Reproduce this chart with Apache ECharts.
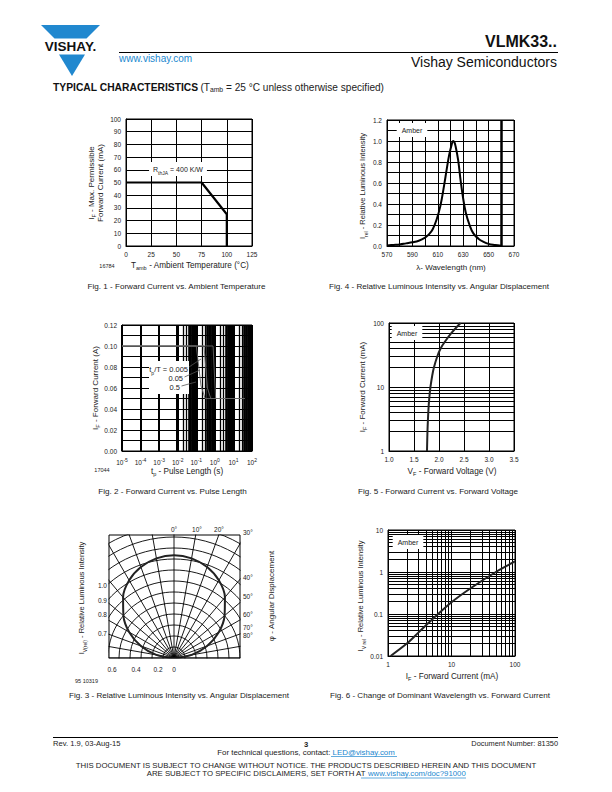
<!DOCTYPE html>
<html><head><meta charset="utf-8">
<script src="https://cdn.jsdelivr.net/npm/echarts@6/dist/echarts.min.js"></script>
<style>html,body{margin:0;padding:0;background:#fff}#c{width:612px;height:792px}</style>
</head><body><div id="c"></div>
<script>
// ---------- DATA ----------
// Fig 1 - Forward current vs ambient temperature
const fig1Temp = [0, 75, 100, 100];
const fig1Current = [50, 50, 25, 0];
// Fig 4 - Relative luminous intensity vs wavelength
const fig4Wavelength = [570, 575, 580, 585, 590, 595, 600, 603, 606, 609, 612, 615, 617, 619, 621, 622, 623, 624, 626, 628, 630, 632, 635, 638, 642, 646, 650, 655, 660];
const fig4RelIntensity = [0.005, 0.01, 0.015, 0.025, 0.035, 0.05, 0.08, 0.11, 0.16, 0.25, 0.38, 0.58, 0.73, 0.87, 0.97, 1.0, 0.99, 0.95, 0.82, 0.62, 0.45, 0.32, 0.2, 0.12, 0.07, 0.04, 0.02, 0.01, 0.003];
// Fig 2 - Forward current vs pulse length (tp/T = 0.005, 0.05, 0.5)
const fig2Pulse0005 = [1e-5, 0.8, 1.1, 40];
const fig2Current0005 = [0.1, 0.1, 0.05, 0.05];
const fig2Pulse005 = [1e-5, 0.26, 0.4, 0.6, 40];
const fig2Current005 = [0.1, 0.1, 0.06, 0.05, 0.05];
const fig2Pulse05 = [1e-5, 0.1, 0.18, 0.3, 40];
const fig2Current05 = [0.1, 0.1, 0.062, 0.05, 0.05];
// Fig 5 - Forward current vs forward voltage
const fig5Voltage = [1.76, 1.769, 1.778, 1.793, 1.815, 1.829, 1.864, 1.897, 1.965, 2.032, 2.11, 2.25, 2.43];
const fig5Current = [1, 2, 3, 5, 8, 10, 15, 20, 30, 40, 50, 70, 100];
// Fig 6 - Relative luminous intensity vs forward current
const fig6Current = [1.1, 2, 3, 5, 10, 20, 50, 100];
const fig6RelIntensity = [0.01, 0.02, 0.036, 0.075, 0.19, 0.41, 1.0, 1.78];
// Fig 3 - Relative luminous intensity vs angular displacement
const fig3Angle = [-90, -80, -70, -60, -50, -40, -30, -20, -10, 0, 10, 20, 30, 40, 50, 60, 70, 80, 90];
const fig3RelIntensity = [0, 0.163, 0.32, 0.47, 0.6, 0.72, 0.815, 0.88, 0.92, 0.935, 0.92, 0.88, 0.815, 0.72, 0.6, 0.47, 0.32, 0.163, 0];
// Tick / label arrays
const fig3TopLabels = ['0°', '10°', '20°'];
const fig3RightLabels = ['30°', '40°', '50°', '60°', '70°', '80°'];
const fig3LeftLabels = ['1.0', '0.9', '0.8', '0.7'];
const fig3BottomLabels = ['0.6', '0.4', '0.2', '0'];

// minor grid positions for log axes
function logMinor(fromExp, toExp, ks) {
  const out = [];
  for (let e = fromExp; e < toExp; e++) for (const k of ks) out.push(+(k * Math.pow(10, e)).toPrecision(3));
  return out;
}
const fig2MinorXThin = logMinor(-5, 2, [2, 3]);
const fig2MinorXThick = logMinor(-5, 2, [4, 5, 6, 7, 8, 9]);
const fig5MinorY = logMinor(0, 2, [2, 3, 4, 5, 6, 7, 8, 9]);
const fig6MinorX = logMinor(0, 2, [2, 3, 4, 5, 6, 7, 8, 9]);
const fig6MinorY = logMinor(-2, 1, [2, 3, 4, 5, 6, 7, 8, 9]);

// ---------- STYLE HELPERS ----------
const F = 'Liberation Sans, Arial, Helvetica, sans-serif';
const BLACK = '#000';
const TXT = '#222';
const BLUE = '#2188cf';

function axis(gridIndex, extra) {
  const base = {
    gridIndex,
    axisLine: { show: true, lineStyle: { color: BLACK, width: 1 } },
    axisTick: { show: false },
    axisLabel: { color: TXT, fontSize: 6.5, fontFamily: F, margin: 5 },
    splitLine: { show: true, lineStyle: { color: BLACK, width: 1 } }
  };
  for (const k in extra) {
    if (typeof extra[k] === 'object' && base[k] && !Array.isArray(extra[k])) base[k] = Object.assign({}, base[k], extra[k]);
    else base[k] = extra[k];
  }
  return base;
}
function minorLines(key, arr, width) {
  return {
    silent: true, symbol: ['none', 'none'], label: { show: false },
    lineStyle: { color: BLACK, width: width || 1, type: 'solid', opacity: 1 },
    emphasis: { disabled: true },
    data: arr.map(v => ({ [key]: v }))
  };
}
const R = (size, extra) => Object.assign({ fontFamily: F, fontSize: size, fill: TXT, lineHeight: 12 }, extra || {});
const SUB = (size) => ({ fontFamily: F, fontSize: size, fill: TXT, verticalAlign: 'bottom', lineHeight: 8 });

function txt(x, y, text, o) {
  o = o || {};
  const style = {
    text, fontFamily: F, fontSize: o.size || 7.5, fontWeight: o.bold ? 'bold' : 'normal',
    fill: o.color || TXT, align: o.align || 'center', verticalAlign: 'middle',
    textAlign: o.align || 'center', textVerticalAlign: 'middle', lineHeight: o.lh || 12
  };
  if (o.rich) style.rich = o.rich;
  if (o.bg) { style.backgroundColor = o.bg; style.padding = o.pad || [1, 3]; }
  return { type: 'text', x, y, z: o.z || 100, silent: true, rotation: o.rot || 0, style };
}
function line(x1, y1, x2, y2, w, color, z) {
  return { type: 'line', z: z || 100, silent: true, shape: { x1, y1, x2, y2 }, style: { stroke: color || BLACK, lineWidth: w || 1 } };
}
function rect(x, y, w, h, fill, z, stroke) {
  return { type: 'rect', z: z || 50, silent: true, shape: { x, y, width: w, height: h },
    style: { fill: fill || '#fff', stroke: stroke || null, lineWidth: stroke ? 1 : 0 } };
}
const ROT = Math.PI / 2;
const CAP = 8.1;

// ---------- GRAPHICS (page text, annotations) ----------
const g = [];
// Logo
g.push({ type: 'polygon', z: 100, silent: true, shape: { points: [[41, 25], [100, 25], [86.5, 38.5], [54.5, 38.5]] }, style: { fill: BLUE } });
g.push({ type: 'polygon', z: 100, silent: true, shape: { points: [[59, 54.5], [85, 54.5], [72, 76]] }, style: { fill: BLUE } });
g.push(txt(70.5, 46.5, 'VISHAY.', { size: 13.5, bold: true, color: '#111' }));
// Header
g.push(txt(557, 41, 'VLMK33..', { size: 16, bold: true, align: 'right', color: '#111' }));
g.push(line(119, 52.5, 558, 52.5, 1));
g.push(txt(119, 58.5, 'www.vishay.com', { size: 10, align: 'left', color: BLUE }));
g.push(txt(557, 62, 'Vishay Semiconductors', { size: 14, align: 'right', color: '#111' }));
g.push(txt(53, 87, '{b|TYPICAL CHARACTERISTICS} {n|(T}{s|amb}{n| = 25 °C unless otherwise specified)}', {
  align: 'left', rich: { b: R(10.3, { fontWeight: 'bold', fill: '#111' }), n: R(10.1), s: SUB(6.8) } }));

// Fig 1 texts
g.push(txt(91, 183, '{n|I}{s|F}{n| - Max. Permissible}', { rot: ROT, rich: { n: R(8), s: SUB(5.5) } }));
g.push(txt(100.5, 183, 'Forward Current (mA)', { rot: ROT, size: 8 }));
g.push(txt(190, 265, '{n|T}{s|amb}{n| - Ambient Temperature (°C)}', { rich: { n: R(8.2), s: SUB(5.5) } }));
g.push(txt(107, 265.5, '16784', { size: 5.5 }));
g.push(txt(176.5, 286.5, 'Fig. 1 - Forward Current vs. Ambient Temperature', { size: CAP }));
g.push(txt(178, 169, '{n|R}{s|thJA}{n| = 400 K/W}', { bg: '#fff', pad: [1, 4], rich: { n: R(7), s: SUB(5) } }));

// Fig 4 texts
g.push(txt(362, 186, '{n|I}{s|rel}{n| - Relative Luminous Intensity}', { rot: ROT, rich: { n: R(7.5), s: SUB(5) } }));
g.push(txt(451, 267, 'λ- Wavelength (nm)', { size: 8 }));
g.push(txt(439, 286.5, 'Fig. 4 - Relative Luminous Intensity vs. Angular Displacement', { size: CAP }));
g.push(txt(412, 130, 'Amber', { size: 7, bg: '#fff', pad: [1, 5] }));

// Fig 2 texts
g.push(txt(95, 388, '{n|I}{s|F}{n| - Forward Current (A)}', { rot: ROT, rich: { n: R(8), s: SUB(5.5) } }));
g.push(txt(187, 471, '{n|t}{s|p}{n| - Pulse Length (s)}', { rich: { n: R(8.2), s: SUB(5.5) } }));
g.push(txt(102, 470, '17044', { size: 5.5 }));
g.push(txt(172.5, 491.5, 'Fig. 2 - Forward Current vs. Pulse Length', { size: CAP }));
g.push(rect(149, 361, 40, 33, '#fff', 60));
g.push(txt(188, 369, '{n|t}{s|p}{n|/T = 0.005}', { align: 'right', rich: { n: R(7.5), s: SUB(5) } }));
g.push(txt(183, 378, '0.05', { align: 'right', size: 7.5 }));
g.push(txt(180, 387, '0.5', { align: 'right', size: 7.5 }));
g.push(line(189, 367, 201, 359, 0.8, '#555'));
g.push(line(184.5, 377, 200, 370, 0.8, '#555'));
g.push(line(181.5, 386, 196, 382, 0.8, '#555'));

// Fig 5 texts
g.push(txt(362, 387, '{n|I}{s|F}{n| - Forward Current (mA)}', { rot: ROT, rich: { n: R(8), s: SUB(5.5) } }));
g.push(txt(452, 471, '{n|V}{s|F}{n| - Forward Voltage (V)}', { rich: { n: R(8.2), s: SUB(5.5) } }));
g.push(txt(438, 491.5, 'Fig. 5 - Forward Current vs. Forward Voltage', { size: CAP }));
g.push(txt(407, 333, 'Amber', { size: 7, bg: '#fff', pad: [1, 5] }));

// Fig 6 texts
g.push(txt(360, 596, '{n|I}{s|V rel}{n| - Relative Luminous Intensity}', { rot: ROT, rich: { n: R(7.5), s: SUB(5) } }));
g.push(txt(452, 676, '{n|I}{s|F}{n| - Forward Current (mA)}', { rich: { n: R(8.2), s: SUB(5.5) } }));
g.push(txt(440, 695.5, 'Fig. 6 - Change of Dominant Wavelength vs. Forward Current', { size: CAP }));
g.push(txt(408, 542, 'Amber', { size: 7, bg: '#fff', pad: [1, 5] }));

// Fig 3 masks + frame + texts
const P3 = { cx: 174, cy: 658, left: 109, top: 535, right: 240 };
g.push(rect(20, 500, P3.left - 20 - 0.5, 170, '#fff', 50));
g.push(rect(P3.right + 0.5, 500, 90, 170, '#fff', 50));
g.push(rect(20, 500, 330, P3.top - 500 - 0.5, '#fff', 50));
g.push(rect(20, P3.cy + 0.5, 330, 792 - P3.cy, '#fff', 50));
g.push(rect(P3.left, P3.top, P3.right - P3.left, P3.cy - P3.top, 'none', 60, BLACK));
const topX = [174, 197, 219];
fig3TopLabels.forEach((t, i) => g.push(txt(topX[i], 529, t, { size: 6.5 })));
const rightY = [532, 577, 596, 614, 627, 635];
fig3RightLabels.forEach((t, i) => g.push(txt(243, rightY[i], t, { size: 6.5, align: 'left' })));
const leftY = [585, 600, 614, 633];
fig3LeftLabels.forEach((t, i) => g.push(txt(107, leftY[i], t, { size: 6.5, align: 'right' })));
const botX = [112, 136, 158, 174];
fig3BottomLabels.forEach((t, i) => g.push(txt(botX[i], 669, t, { size: 6.5 })));
g.push(txt(75, 681, '95 10319', { size: 5.5, align: 'left' }));
g.push(txt(81, 598, '{n|I}{s|V(rel)}{n| - Relative Luminous Intensity}', { rot: ROT, rich: { n: R(7.5), s: SUB(5) } }));
g.push(txt(271, 596, 'φ - Angular Displacement', { rot: ROT, size: 8 }));
g.push(txt(179, 695.5, 'Fig. 3 - Relative Luminous Intensity vs. Angular Displacement', { size: CAP }));

// Footer
g.push(line(53, 737.5, 558, 737.5, 1));
g.push(txt(53, 743.5, 'Rev. 1.9, 03-Aug-15', { size: 7.6, align: 'left' }));
g.push(txt(306, 744, '3', { size: 7.6, bold: true }));
g.push(txt(558, 743.5, 'Document Number: 81350', { size: 7.4, align: 'right' }));
g.push(txt(306, 752, '{n|For technical questions, contact: }{l|LED@vishay.com}', {
  rich: { n: R(7.9), l: R(7.9, { fill: BLUE }) } }));
g.push(line(331, 756.5, 397, 756.5, 0.7, BLUE));
g.push(txt(306, 765, 'THIS DOCUMENT IS SUBJECT TO CHANGE WITHOUT NOTICE. THE PRODUCTS DESCRIBED HEREIN AND THIS DOCUMENT', { size: 7.8 }));
g.push(txt(306, 773.5, '{n|ARE SUBJECT TO SPECIFIC DISCLAIMERS, SET FORTH AT }{l|www.vishay.com/doc?91000}', {
  rich: { n: R(7.8), l: R(7.8, { fill: BLUE }) } }));
g.push(line(361, 778, 466, 778, 0.7, BLUE));

// ---------- CHART OPTION ----------
const pairs = (xs, ys) => xs.map((x, i) => [x, ys[i]]);
const curve = (w, color) => ({ color: color || BLACK, width: w });

const option = {
  animation: false,
  backgroundColor: '#fff',
  grid: [
    { left: 126, top: 119, width: 126, height: 127, show: true, borderColor: BLACK, borderWidth: 1, outerBoundsMode: 'none', containLabel: false },
    { left: 387, top: 120, width: 127, height: 126, show: true, borderColor: BLACK, borderWidth: 1, outerBoundsMode: 'none', containLabel: false },
    { left: 122, top: 325, width: 130, height: 126, show: true, borderColor: BLACK, borderWidth: 1, outerBoundsMode: 'none', containLabel: false },
    { left: 389, top: 323, width: 125, height: 128, show: true, borderColor: BLACK, borderWidth: 1, outerBoundsMode: 'none', containLabel: false },
    { left: 388, top: 530, width: 127, height: 126, show: true, borderColor: BLACK, borderWidth: 1, outerBoundsMode: 'none', containLabel: false }
  ],
  xAxis: [
    axis(0, { type: 'value', min: 0, max: 125, interval: 25 }),
    axis(1, { type: 'value', min: 570, max: 670, interval: 20,
      minorTick: { show: false, splitNumber: 2 }, minorSplitLine: { show: true, lineStyle: { color: BLACK, width: 1 } } }),
    axis(2, { type: 'log', logBase: 10, min: 1e-5, max: 100, splitNumber: 7,
      splitLine: { show: true, lineStyle: { color: BLACK, width: 2 } },
      axisLabel: { color: TXT, fontFamily: F, fontSize: 6.5, margin: 6,
        formatter: v => '{b|10}{s|' + Math.round(Math.log10(v)) + '}',
        rich: { b: { fontSize: 6.5, fontFamily: F, color: TXT, lineHeight: 10 }, s: { fontSize: 5, fontFamily: F, color: TXT, verticalAlign: 'top', lineHeight: 6 } } } }),
    axis(3, { type: 'value', min: 1, max: 3.5, interval: 0.5, axisLabel: { formatter: v => v.toFixed(1) } }),
    axis(4, { type: 'log', logBase: 10, min: 1, max: 100, splitNumber: 2 })
  ],
  yAxis: [
    axis(0, { type: 'value', min: 0, max: 100, interval: 10 }),
    axis(1, { type: 'value', min: 0, max: 1.2, interval: 0.2, axisLabel: { formatter: v => v.toFixed(1) },
      minorTick: { show: false, splitNumber: 2 }, minorSplitLine: { show: true, lineStyle: { color: BLACK, width: 1 } } }),
    axis(2, { type: 'value', min: 0, max: 0.12, interval: 0.02, axisLabel: { formatter: v => v.toFixed(2) },
      minorTick: { show: false, splitNumber: 2 }, minorSplitLine: { show: true, lineStyle: { color: BLACK, width: 1 } } }),
    axis(3, { type: 'log', logBase: 10, min: 1, max: 100, splitNumber: 2 }),
    axis(4, { type: 'log', logBase: 10, min: 0.01, max: 10, splitNumber: 3 })
  ],
  polar: { center: [P3.cx, P3.cy], radius: 143 },
  angleAxis: {
    type: 'value', min: -180, max: 180, interval: 10, startAngle: 270, clockwise: true,
    axisLine: { show: false }, axisTick: { show: false }, axisLabel: { show: false },
    splitLine: { show: true, lineStyle: { color: BLACK, width: 0.9 } }
  },
  radiusAxis: {
    type: 'value', min: 0, max: 1.3, interval: 0.1,
    axisLine: { show: false }, axisTick: { show: false }, axisLabel: { show: false },
    splitLine: { show: true, lineStyle: { color: BLACK, width: 0.9 } }
  },
  graphic: { elements: g },
  series: [
    { name: 'Fig1', type: 'line', xAxisIndex: 0, yAxisIndex: 0, data: pairs(fig1Temp, fig1Current),
      symbol: 'none', lineStyle: curve(2.2), z: 5 },
    { name: 'Fig4', type: 'line', xAxisIndex: 1, yAxisIndex: 1, data: pairs(fig4Wavelength, fig4RelIntensity),
      symbol: 'none', smooth: 0.4, lineStyle: curve(2), z: 5,
      markLine: minorLines('xAxis', [660], 2.5) },
    { name: 'tp/T = 0.005', type: 'line', xAxisIndex: 2, yAxisIndex: 2, data: pairs(fig2Pulse0005, fig2Current0005),
      symbol: 'none', lineStyle: curve(0.9, '#666'), z: 5,
      markLine: minorLines('xAxis', fig2MinorXThick, 2.6) },
    { name: 'tp/T = 0.05', type: 'line', xAxisIndex: 2, yAxisIndex: 2, data: pairs(fig2Pulse005, fig2Current005),
      symbol: 'none', lineStyle: curve(0.9, '#666'), z: 5,
      markLine: minorLines('xAxis', fig2MinorXThin, 1.3) },
    { name: 'tp/T = 0.5', type: 'line', xAxisIndex: 2, yAxisIndex: 2, data: pairs(fig2Pulse05, fig2Current05),
      symbol: 'none', lineStyle: curve(0.9, '#666'), z: 5 },
    { name: 'Fig5', type: 'line', xAxisIndex: 3, yAxisIndex: 3, data: pairs(fig5Voltage, fig5Current),
      symbol: 'none', smooth: 0.3, lineStyle: curve(2, '#222'), z: 5,
      markLine: minorLines('yAxis', fig5MinorY, 1) },
    { name: 'Fig6', type: 'line', xAxisIndex: 4, yAxisIndex: 4, data: pairs(fig6Current, fig6RelIntensity),
      symbol: 'none', smooth: 0.3, lineStyle: curve(2, '#222'), z: 5,
      markLine: minorLines('xAxis', fig6MinorX, 1) },
    { name: 'Fig6minorY', type: 'line', xAxisIndex: 4, yAxisIndex: 4, data: [],
      symbol: 'none', markLine: minorLines('yAxis', fig6MinorY, 1) },
    { name: 'Fig3', type: 'line', coordinateSystem: 'polar', data: fig3Angle.map((a, i) => [fig3RelIntensity[i], a]),
      symbol: 'none', smooth: 0.3, lineStyle: curve(2, '#222'), z: 5 }
  ]
};

const chart = echarts.init(document.getElementById('c'), null, { renderer: 'svg', width: 612, height: 792 });
chart.setOption(option);
</script>
</body></html>
